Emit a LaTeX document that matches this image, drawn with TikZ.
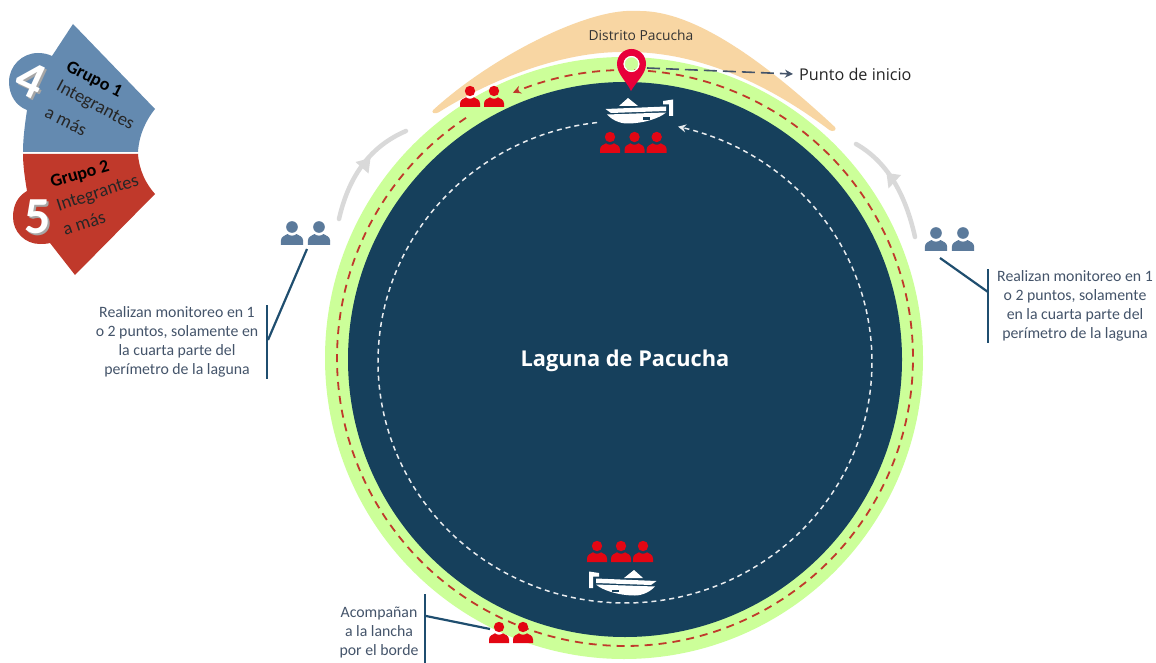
\documentclass[tikz,border=0pt]{standalone}
\usepackage{fontspec}
\setmainfont{Carlito}
\newfontfamily\seg{Open Sans}
\usetikzlibrary{arrows.meta}
\definecolor{lagoon}{HTML}{16405C}
\definecolor{shore}{HTML}{CCFF99}
\definecolor{peach}{HTML}{F8D6A3}
\definecolor{dashred}{HTML}{C0392B}
\definecolor{panelblue}{HTML}{648AB0}
\definecolor{panelred}{HTML}{C0392B}
\definecolor{slate}{HTML}{44546A}
\definecolor{iconblue}{HTML}{5B7A9B}
\definecolor{iconred}{HTML}{E30613}
\definecolor{pinred}{HTML}{E8003A}
\definecolor{leader}{HTML}{1F4E6F}
\definecolor{arrowgrey}{HTML}{D9D9D9}
\tikzset{
  x=1pt,y=-1pt,
  note/.style={font=\fontsize{15.8}{19}\selectfont,text=slate,align=center,inner sep=0pt},
  leaderline/.style={draw=leader,line width=2.2pt},
  grouptext/.style={font=\fontsize{18.5}{20}\selectfont,text=black!85,inner sep=0pt},
  grouptitle/.style={font=\fontsize{18}{20}\selectfont\bfseries,text=black,inner sep=0pt},
  bignum/.style={font=\fontsize{52}{52}\selectfont\bfseries,inner sep=0pt},
  greyarc/.style={draw=arrowgrey,line width=4.5pt,line cap=round},
  person/.pic={
    \fill[pic actions] (0,0) circle (5.2);
    \fill[pic actions] (-10,16) -- (-10,12.5) .. controls (-10,8.5) and (-6,7.5) .. (-4,6.3)
      .. controls (-2,8.2) and (2,8.2) .. (4,6.3) .. controls (6,7.5) and (10,8.5) .. (10,12.5) -- (10,16) -- cycle;
  },
  boat/.pic={
    \fill[white] (-11,0) -- (-2,-8) -- (8,0) -- cycle;
    \fill[white] (33,-5) -- (43,-6.5) -- (43,10) -- (39,10) -- (39,-1.5) -- (33,-1.5) -- cycle;
    \fill[white] (-24.5,3) -- (36,0.5) -- (36,5) -- (-19,7) -- cycle;
    \fill[white] (-23,8.5) -- (36,6.5) .. controls (30,12) and (14,17.5) .. (-3,17.5)
      .. controls (-11,17.5) and (-19,13) .. (-23,8.5) -- cycle;
    \fill[lagoon] (13,11.5) rectangle (20,14);
  }
}
\begin{document}
\begin{tikzpicture}
\useasboundingbox (0,0) rectangle (1156,663);
\fill[white] (0,0) rectangle (1156,663);

% district
\fill[peach,rounded corners=3pt] (431,112)
  .. controls (490,58) and (585,9) .. (637,11)
  .. controls (695,11) and (765,62) .. (837,129)
  -- (832,132)
  .. controls (770,85) and (700,52) .. (625,52)
  .. controls (560,52) and (490,80) .. (436,114) -- cycle;

% lake
\fill[shore] (624,358) ellipse [x radius=299,y radius=301];
\fill[lagoon] (625,359.5) ellipse [x radius=277,y radius=277.5];

% routes
\draw[dashred,line width=1.8pt,dash pattern=on 8pt off 6pt,-{Stealth[length=8pt,width=8pt]}]
  plot[domain=-123.5:-472.9,samples=260,smooth] ({625+288*cos(\x)},{358+288*sin(\x)});
\draw[white!90!lagoon,line width=1.5pt,dash pattern=on 5pt off 4pt,-{Stealth[length=8pt,width=8pt]}]
  plot[domain=-96.5:-437.6,samples=260,smooth] ({625+247*cos(\x)},{362+241*sin(\x)});

% grey arrows
\draw[greyarc] (339,219) .. controls (349,175) and (371,146) .. (406,131);
\fill[arrowgrey] (370.5,158) -- (355.5,162) -- (368.5,173.5) -- cycle;
\draw[greyarc] (915,237) .. controls (905,192) and (886,161) .. (856,144);
\fill[arrowgrey] (886.5,173) -- (901,175) -- (888.5,188.5) -- cycle;

% people
\foreach \n/\px/\py in {a/470/91,b/494/91,c/610/137,d/634.5/137,e/656.7/137,f/597/546,g/621/546,h/643/546,i/499/627,j/523/627}
  \pic[iconred] (\n) at (\px,\py) {person};
\foreach \n/\px/\py in {k/292/227,l/319/227,m/936/233,n/963/233}
  \pic[iconblue,scale=1.12] (\n) at (\px,\py) {person};

% boats
\pic (boat1) at (630,106) {boat};
\pic[xscale=-1] (boat2) at (632,578) {boat};

% pin
\fill[pinred,even odd rule] (631,91) .. controls (627,82) and (617,74) .. (617,64)
  .. controls (617,55) and (624,49) .. (631.5,49) .. controls (639,49) and (646,55) .. (646,64)
  .. controls (646,74) and (636,82) .. (631,91) -- cycle
  (631.5,64) circle (8);
\draw[white,line width=1.2pt] (631.5,64) circle (7.4);
\coordinate (pinout) at (647,68);

% start label
\node[font=\seg\fontsize{16.2}{18}\selectfont,text=black!85,anchor=west,inner sep=0pt] (punto) at (799,74) {Punto de inicio};
\draw[slate,line width=1.6pt,dash pattern=on 13pt off 6pt,-{Stealth[length=8pt,width=8pt]}] (pinout) -- ([xshift=-6pt]punto.west);
\node[font=\seg\fontsize{13.8}{15}\selectfont,text=black!80,inner sep=0pt] (distrito) at (641,35) {Distrito Pacucha};
\node[font=\seg\fontsize{21.8}{24}\selectfont\bfseries,text=white,inner sep=0pt] (laguna) at (625,361) {Laguna de Pacucha};

% notes and leaders
\node[note] (noteL) at (177,342) {Realizan monitoreo en 1\\o 2 puntos, solamente en\\la cuarta parte del\\perímetro de la laguna};
\coordinate (lv1) at (267,305); \coordinate (lv2) at (267,379); \coordinate (lj) at (268,340); \coordinate (lp) at (307,249);
\draw[leaderline] (lv1) -- (lv2);
\draw[leaderline] (lj) -- (lp);
\node[note] (noteR) at (1075,306) {Realizan monitoreo en 1\\o 2 puntos, solamente\\en la cuarta parte del\\perímetro de la laguna};
\coordinate (rv1) at (988,269); \coordinate (rv2) at (988,343); \coordinate (rj) at (988,292); \coordinate (rp) at (940,258);
\draw[leaderline] (rv1) -- (rv2);
\draw[leaderline] (rj) -- (rp);
\node[note] (noteB) at (379,632) {Acompañan\\a la lancha\\por el borde};
\coordinate (bv1) at (425,594); \coordinate (bv2) at (425,663); \coordinate (bj) at (426,616); \coordinate (bp) at (490,629);
\draw[leaderline] (bv1) -- (bv2);
\draw[leaderline] (bj) -- (bp);

% group panels
\fill[panelblue] (73,24) -- (155,109) .. controls (146,120) and (139,135) .. (138,152) -- (23,152)
  .. controls (23,138) and (25,124) .. (27,110)
  .. controls (16,106) and (9,95) .. (9,82) .. controls (9,66) and (22,53) .. (38,53)
  .. controls (43,53) and (48,54) .. (52,56) -- cycle;
\fill[panelred] (23,154) -- (138,154) .. controls (139,170) and (146,184) .. (155,194) -- (75,275)
  -- (50,243) .. controls (46,244) and (43,244) .. (40,244)
  .. controls (25,244) and (13,232) .. (13,217) .. controls (13,205) and (18,196) .. (27,191)
  .. controls (25,179) and (23,166) .. (23,154) -- cycle;

\node[bignum,text=black!35,rotate=-25] at (33,82) {4};
\node[bignum,text=white,rotate=-25] (num4) at (31,80) {4};
\node[bignum,text=black!35] at (40,219) {5};
\node[bignum,text=white] (num5) at (38,217) {5};
\node[grouptitle,rotate=-27] (g1) at (94,80) {Grupo 1};
\node[grouptext,rotate=-28] (g1a) at (95,106) {Integrantes};
\node[grouptext,rotate=-26] (g1b) at (66,121) {a más};
\node[grouptitle,rotate=16] (g2) at (80,175) {Grupo 2};
\node[grouptext,rotate=18] (g2a) at (98,194) {Integrantes};
\node[grouptext,rotate=18] (g2b) at (84,223) {a más};
\end{tikzpicture}
\end{document}
